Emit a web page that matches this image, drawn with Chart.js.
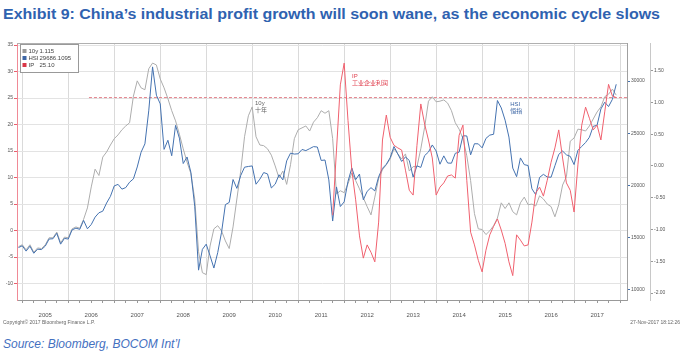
<!DOCTYPE html>
<html>
<head>
<meta charset="utf-8">
<script src="https://cdn.jsdelivr.net/npm/chart.js@4.4.1/dist/chart.umd.min.js"></script>
<style>
body{margin:0;width:682px;height:352px;background:#fff;overflow:hidden;position:relative;font-family:"Liberation Sans",Arial,sans-serif}
#title{position:absolute;left:3px;top:6px;font-weight:bold;font-size:14px;color:#2f62b0;white-space:nowrap;transform-origin:0 0}
#source{position:absolute;left:3px;top:337px;font-style:italic;font-size:12px;color:#4470bf;white-space:nowrap}
#wrap{position:absolute;left:0;top:30px;width:682px;height:300px}
</style>
</head>
<body>
<div id="title">Exhibit 9: China’s industrial profit growth will soon wane, as the economic cycle slows</div>
<div id="wrap"><canvas id="myChart"></canvas></div>
<div id="source">Source: Bloomberg, BOCOM Int’l</div>
<script>
// monthly series, first month = Nov 2004
const startYear = 2004, startMonth = 11;

const hsi = [
  14060, 14230,
  13721, 14195, 13516, 13908, 13867, 14201, 14880, 14903, 15428, 14386, 14937, 14876,
  15753, 15918, 15805, 16661, 15857, 16267, 16971, 17392, 17543, 18324, 18960, 19965,
  20107, 19651, 19801, 20318, 20634, 21773, 23185, 23984, 27142, 31352, 28643, 27813,
  23456, 24332, 22849, 25755, 24533, 22102, 22731, 21262, 18016, 11900, 13888, 14387,
  13278, 12100, 13576, 15521, 18171, 18379, 20573, 19724, 20955, 21752, 21822, 21873,
  20122, 20609, 21239, 21108, 19765, 20129, 21030, 20536, 22358, 23096, 23008, 23035,
  23447, 23338, 23528, 23720, 23684, 22398, 22440, 20535, 16600, 19864, 17989, 18434,
  20390, 21680, 20556, 21094, 18630, 19441, 19796, 19482, 20840, 21642, 22030, 22657,
  23730, 23020, 22300, 22737, 22392, 20803, 21883, 21731, 22860, 23206, 23881, 23306,
  22035, 22837, 22151, 22134, 23082, 23191, 24757, 24742, 22933, 23998, 23987, 23605,
  24507, 24823, 24901, 28133, 27424, 26250, 24636, 21670, 20846, 22640, 21996, 21914,
  19683, 19112, 20777, 21067, 20815, 20794, 21891, 22977, 23297, 22935, 22790, 22001,
  23361, 23741, 24112, 24615, 25661, 25765, 27323, 27970, 27554, 28246, 29686.1095
];

const tenY = [
  -1.27, -1.24,
  -1.32, -1.24, -1.36, -1.29, -1.30, -1.24, -1.13, -1.13, -1.04, -1.21, -1.12, -1.13,
  -0.99, -0.96, -0.98, -0.84, -0.66, -0.33, -0.05, -0.15, 0.14, 0.22, 0.33, 0.43,
  0.49, 0.57, 0.63, 0.68, 1.10, 1.34, 1.23, 1.20, 1.53, 1.62, 1.59, 1.37,
  1.23, 1.06, 0.87, 0.71, 0.50, 0.27, 0.06, -0.12, -0.52, -1.35, -1.68, -1.71,
  -1.26, -0.99, -0.94, -1.02, -1.18, -1.30, -0.96, -0.52, -0.08, 0.46, 0.79, 0.93,
  0.46, 0.33, 0.32, 0.27, 0.17, 0.00, -0.19, -0.08, -0.29, 0.02, 0.43, 0.57,
  0.60, 0.63, 0.55, 0.69, 0.76, 0.87, 0.83, 0.87, 0.43, -0.44, -0.39, -0.42,
  -0.28, -0.11, -0.23, -0.36, -0.50, -0.64, -0.77, -0.49, -0.20, -0.06, 0.02, 0.11,
  0.27, 0.19, 0.11, 0.19, -0.08, -0.01, -0.01, 0.27, 0.61, 1.02, 1.09, 1.01,
  1.02, 1.04, 0.99, 0.87, 0.68, 0.58, 0.43, 0.16, -0.23, -0.75, -0.99, -1.00,
  -1.08, -1.02, -0.94, -0.82, -0.58, -0.67, -0.58, -0.72, -0.77, -0.58, -0.49, -0.61,
  -0.60, -0.63, -0.47, -0.52, -0.60, -0.64, -0.80, -0.61, -0.30, -0.17, 0.39, 0.44,
  0.58, 0.57, 0.55, 0.63, 0.74, 0.85, 0.93, 1.09, 1.13, 1.21, 1.115
];

// IP starts Sep 2011
const ipStart = '2011-09';
const ip = [
  2.9, 15.2, 27.5, 31.6,
  20.8, 11.4, 5.8, -1.0, -5.2, -2.7, -4.1, -5.9, 1.6, 17.1, 21.8, 17.6,
  16.1, 15.6, 15.2, 11.4, 7.6, 6.7, 16.1, 23.9, 20.1, 17.1, 13.7, 6.7,
  8.2, 9.0, 10.3, 10.5, 9.9, 18.0, 19.9, 9.5, -0.3, -2.7, -5.6, -7.8,
  -3.7, -0.8, 0.8, 2.2, 0.1, -2.4, -5.9, -8.5, -0.8, -1.8, -2.9, -2.7,
  1.6, 7.1, 8.2, 6.5, 9.5, 12.9, 15.6, 19.0, 13.7, 9.0, 7.6, 3.5,
  12.4, 19.9, 23.3, 21.2, 19.0, 19.9, 17.1, 22.4, 27.6, 25.4, 25.1
];

const lastValues = { tenY: '1.115', hsi: '29686.1095', ip: '25.10' };
const ipRefStart = 2006.45;

const leftTicks = [-10, -5, 0, 5, 10, 15, 20, 25, 30, 35];
const hsiTicks = [10000, 15000, 20000, 25000, 30000];
const tenYTicks = [-2, -1.5, -1, -0.5, 0, 0.5, 1, 1.5];

const months = [];
for (let i = 0; i < hsi.length; i++) {
  const m = startMonth - 1 + i;
  months.push(`${startYear + Math.floor(m / 12)}-${String(m % 12 + 1).padStart(2, '0')}`);
}
function toYear(label) {
  const [y, m] = label.split('-').map(Number);
  return y + m / 12;
}
const ipOffset = months.indexOf(ipStart);
const xMin = 2004.885, xMax = 2018.151;

const annotations = [
  { lines: ['10y', '十年'], x: 2010.06, y: 24.1, color: '#666' },
  { lines: ['IP', '工业企业利润'], x: 2012.17, y: 29.2, color: '#e0404f' },
  { lines: ['HSI', '恒指'], x: 2015.61, y: 23.9, color: '#3d66a5' }
];

const decor = {
  id: 'decor',
  afterDraw(chart) {
    const ctx = chart.ctx, a = chart.chartArea;
    ctx.save();
    // top frame
    ctx.strokeStyle = '#b0b0b0';
    ctx.lineWidth = 1;
    ctx.beginPath();
    ctx.moveTo(a.left, a.top + 0.5);
    ctx.lineTo(a.right, a.top + 0.5);
    ctx.stroke();

    // annotations
    const sx = chart.scales.x, sy = chart.scales.y;
    annotations.forEach(an => {
      const px = sx.getPixelForValue(an.x), py = sy.getPixelForValue(an.y);
      ctx.fillStyle = an.color;
      ctx.textAlign = 'left';
      ctx.textBaseline = 'middle';
      an.lines.forEach((t, i) => {
        ctx.font = i === 0 ? '6px "Liberation Sans"' : '6px "Noto Sans CJK SC"';
        ctx.fillText(t, px, py + i * 7);
      });
    });

    // legend box
    const lx = a.left + 3.5, ly = a.top + 1.5;
    ctx.fillStyle = '#fff';
    ctx.fillRect(lx, ly, 58, 28);
    ctx.strokeStyle = '#999';
    ctx.strokeRect(lx, ly, 58, 28);
    const rows = [
      ['10y', lastValues.tenY, '#9a9a9a'],
      ['HSI', lastValues.hsi, '#3d66a5'],
      ['IP', lastValues.ip, '#d93646']
    ];
    ctx.font = '6px "Liberation Sans"';
    ctx.textBaseline = 'middle';
    rows.forEach((r, i) => {
      const ry = ly + 6.5 + i * 7;
      ctx.fillStyle = r[2];
      ctx.fillRect(lx + 2, ry - 2, 4, 4);
      ctx.fillStyle = '#444';
      ctx.fillText(r[0], lx + 8, ry);
      ctx.fillText(r[1], lx + 19, ry);
    });

    // footer
    ctx.fillStyle = '#666';
    ctx.font = '5px "Liberation Sans"';
    ctx.textAlign = 'left';
    ctx.fillText('Copyright© 2017 Bloomberg Finance L.P.', 3, 293);
    ctx.textAlign = 'right';
    ctx.fillText('27-Nov-2017 18:12:26', 680, 293);
    ctx.restore();
  }
};

Chart.defaults.font.family = '"Liberation Sans", Arial, sans-serif';

const ctx = document.getElementById('myChart').getContext('2d');
new Chart(ctx, {
  type: 'line',
  data: {
    datasets: [
      {
        label: 'IP',
        data: ip.map((v, i) => ({ x: toYear(months[ipOffset + i]), y: v })),
        yAxisID: 'y',
        borderColor: '#f0606e',
        borderWidth: 1,
        pointRadius: 0
      },
      {
        label: 'HSI',
        data: hsi.map((v, i) => ({ x: toYear(months[i]), y: v })),
        yAxisID: 'y1',
        borderColor: '#4472b0',
        borderWidth: 1,
        pointRadius: 0
      },
      {
        label: '10y',
        data: tenY.map((v, i) => ({ x: toYear(months[i]), y: v })),
        yAxisID: 'y2',
        borderColor: '#adadad',
        borderWidth: 1,
        pointRadius: 0
      },
      {
        label: 'IP last',
        data: [{ x: ipRefStart, y: ip[ip.length - 1] }, { x: xMax, y: ip[ip.length - 1] }],
        yAxisID: 'y',
        borderColor: '#e3808a',
        borderWidth: 1,
        borderDash: [3, 2],
        pointRadius: 0
      }
    ]
  },
  options: {
    responsive: true,
    maintainAspectRatio: false,
    animation: false,
    layout: { padding: { top: 13, left: 0, right: 0, bottom: 0 } },
    plugins: {
      legend: { display: false },
      title: { display: false },
      tooltip: { enabled: false }
    },
    scales: {
      x: {
        type: 'linear',
        min: xMin,
        max: xMax,
        afterBuildTicks: s => {
          s.ticks = [];
          for (let q = 2005 * 4; q <= 2018 * 4; q++) s.ticks.push({ value: q / 4 });
        },
        afterFit: s => { s.height = 30; },
        ticks: {
          autoSkip: false,
          maxRotation: 0,
          padding: 9,
          color: '#555',
          font: { size: 6 },
          callback: v => (v % 1 === 0.5 ? String(Math.floor(v)) : '')
        },
        grid: {
          color: c => (c.tick && c.tick.value % 1 === 0 ? '#dadada' : 'rgba(0,0,0,0)'),
          tickColor: '#999',
          tickLength: 3
        },
        border: { color: '#999' }
      },
      y: {
        position: 'left',
        min: -13.1,
        max: 35.4,
        afterBuildTicks: s => { s.ticks = leftTicks.map(v => ({ value: v })); },
        afterFit: s => { s.width = 17; },
        ticks: { color: '#555', font: { size: 5 }, padding: 1 },
        grid: { color: '#e3e3e3', tickColor: '#e8606e', tickLength: 3 },
        border: { color: '#f08a96' }
      },
      y1: {
        position: 'right',
        weight: 0,
        min: 9043,
        max: 33637,
        afterBuildTicks: s => { s.ticks = hsiTicks.map(v => ({ value: v })); },
        afterFit: s => { s.width = 23; },
        ticks: { color: '#555', font: { size: 5 }, padding: 1, callback: v => String(v) },
        grid: { drawOnChartArea: false, tickColor: '#4472b0', tickLength: 3 },
        border: { color: '#a0a0a0' }
      },
      y2: {
        position: 'right',
        weight: 1,
        min: -2.11,
        max: 1.936,
        afterBuildTicks: s => { s.ticks = tenYTicks.map(v => ({ value: v })); },
        afterFit: s => { s.width = 32; },
        ticks: { color: '#555', font: { size: 5 }, padding: 1, callback: v => v.toFixed(2) },
        grid: { drawOnChartArea: false, tickColor: '#999', tickLength: 3 },
        border: { color: '#c8c8c8' }
      }
    }
  },
  plugins: [decor]
});

const title = document.getElementById('title');
title.style.transform = `scaleX(${657 / title.getBoundingClientRect().width})`;
</script>
</body>
</html>
